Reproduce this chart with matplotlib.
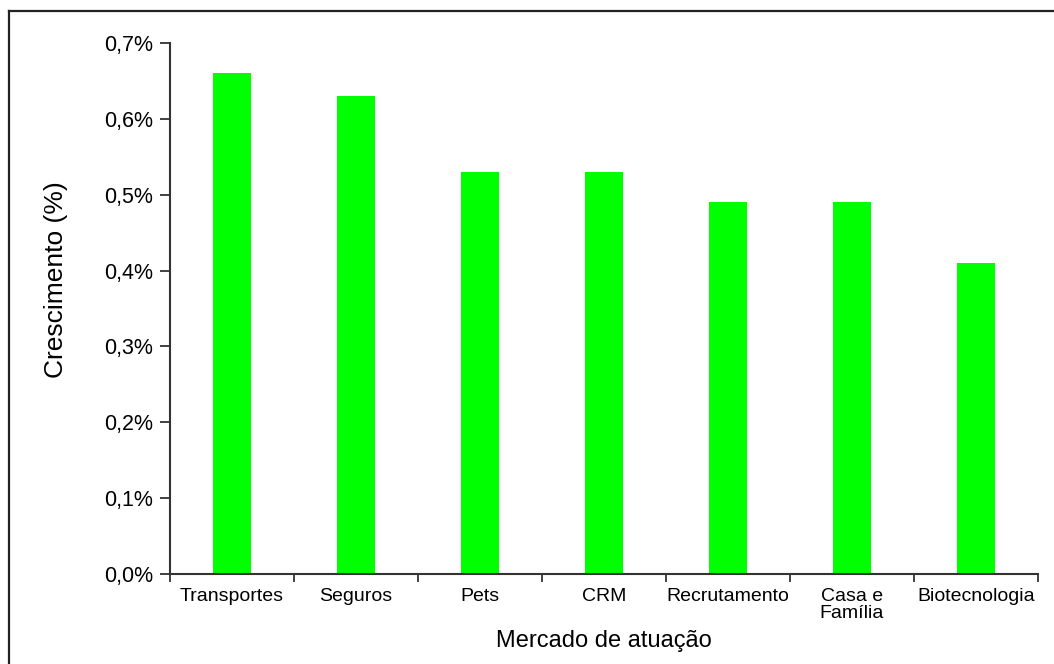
import matplotlib

matplotlib.use("Agg")
from matplotlib import pyplot as plt
from matplotlib.lines import Line2D
from matplotlib.ticker import FixedLocator, FuncFormatter
import numpy as np

plt.rcParams["font.family"] = ["Liberation Sans", "DejaVu Sans"]

categories = ["Transportes", "Seguros", "Pets", "CRM", "Recrutamento",
              "Casa e\nFamília", "Biotecnologia"]
growth = [0.66, 0.63, 0.53, 0.53, 0.49, 0.49, 0.41]
yticks = [0.0, 0.1, 0.2, 0.3, 0.4, 0.5, 0.6, 0.7]

fig = plt.figure(figsize=(10.54, 6.64), dpi=100)
ax = fig.add_axes([0.1613, 0.1355, 0.8235, 0.7997])

x = np.arange(len(categories))
ax.bar(x, growth, width=0.31, color="#00ff00")

ax.set_xlim(-0.5, len(categories) - 0.5)
ax.set_ylim(0, 0.7)
ax.set_yticks(yticks)
ax.yaxis.set_major_formatter(FuncFormatter(lambda v, p: f"{v:.1f}%".replace(".", ",")))
ax.set_xticks(x)
ax.set_xticklabels(categories, fontsize=14, linespacing=1.0)
ax.xaxis.set_minor_locator(FixedLocator(np.arange(len(categories) + 1) - 0.5))
ax.tick_params(axis="x", which="major", length=0, pad=10)
ax.tick_params(axis="x", which="minor", length=6, width=1.3, color="#333333", direction="out")
ax.tick_params(axis="y", length=7, width=1.3, color="#333333", labelsize=15.5, pad=5)

for side in ["top", "right"]:
    ax.spines[side].set_visible(False)
for side in ["left", "bottom"]:
    ax.spines[side].set_linewidth(1.5)
    ax.spines[side].set_color("#333333")

ax.set_ylabel("Crescimento (%)", fontsize=19)
ax.set_xlabel("Mercado de atuação", fontsize=17)
ax.yaxis.set_label_coords(-0.118, 0.554)
ax.xaxis.set_label_coords(0.5, -0.105)

# outer frame (left and top edges visible in the reference)
fig.add_artist(Line2D([0.0081, 0.0081], [0.0, 0.9834], transform=fig.transFigure,
                      color="#222222", lw=1.6))
fig.add_artist(Line2D([0.0081, 1.0], [0.9834, 0.9834], transform=fig.transFigure,
                      color="#222222", lw=1.6))

fig.savefig("out.png", dpi=100)
plt.close(fig)
